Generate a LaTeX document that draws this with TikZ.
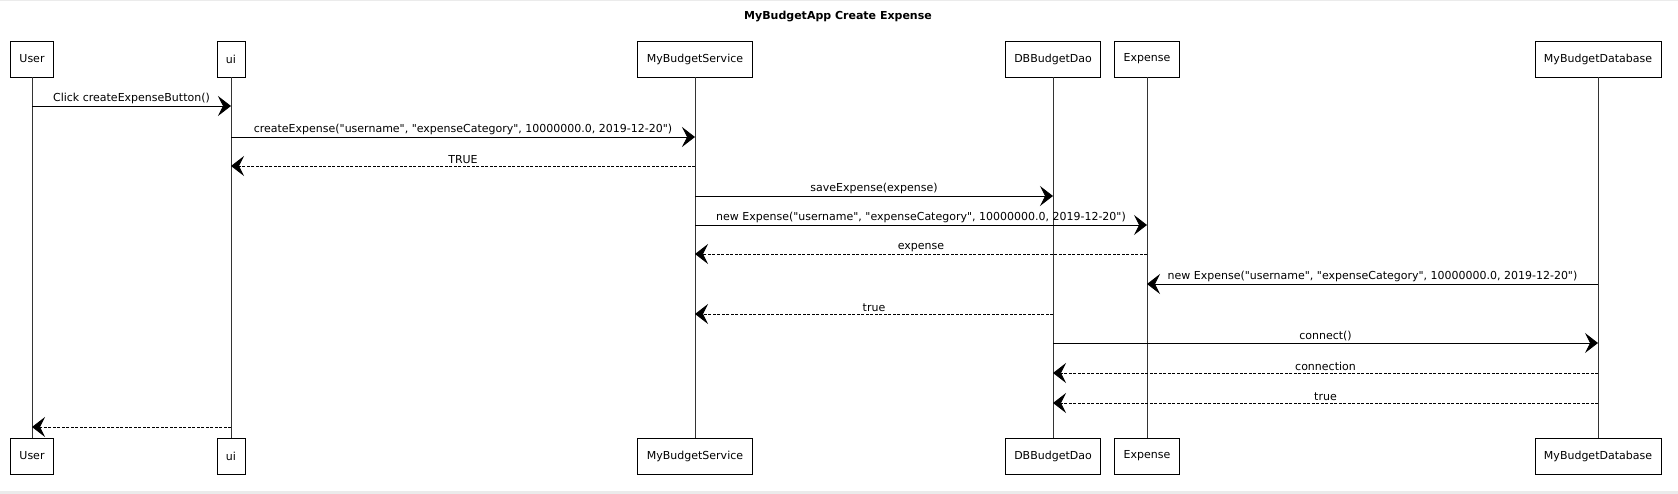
\documentclass[tikz,border=0pt]{standalone}
\usepackage{fontspec}
\setmainfont{DejaVu Sans}[Ligatures=TeXOff]
\usetikzlibrary{arrows.meta}

\tikzset{
  actor/.style={draw, fill=white, line width=0.8pt, minimum height=36pt, inner xsep=9pt, font=\fontsize{11}{13}\selectfont},
  life/.style={line width=0.6pt, draw=black!80},
  call/.style={line width=0.9pt, -{Stealth[length=13pt, width=20pt, inset=5pt]}},
  reply/.style={call, dash pattern=on 3pt off 1.5pt},
  msg/.style={above, inner sep=2pt, font=\fontsize{11}{13}\selectfont}
}

\begin{document}
\begin{tikzpicture}[x=1pt, y=-1pt]
    \useasboundingbox (0,0) rectangle (1678,494);
    \fill[black!8] (0,0) rectangle (1678,1.5);
    \fill[black!8] (0,491) rectangle (1678,494);

    \node[font=\bfseries\fontsize{11}{13}\selectfont] (title) at (838,17) {MyBudgetApp Create Expense};

    % participants, top row
    \node[actor] (userT) at (32,59) {User};
    \node[actor] (uiT) at (231,59) {ui};
    \node[actor] (serviceT) at (695,59) {MyBudgetService};
    \node[actor] (daoT) at (1053,59) {DBBudgetDao};
    \node[actor] (expenseT) at (1147,59) {Expense};
    \node[actor] (dbT) at (1598,59) {MyBudgetDatabase};

    % participants, bottom row
    \node[actor] (userB) at (32,456) {User};
    \node[actor] (uiB) at (231,456) {ui};
    \node[actor] (serviceB) at (695,456) {MyBudgetService};
    \node[actor] (daoB) at (1053,456) {DBBudgetDao};
    \node[actor] (expenseB) at (1147,456) {Expense};
    \node[actor] (dbB) at (1598,456) {MyBudgetDatabase};

    % lifelines
    \draw[life] (userT) -- (userB);
    \draw[life] (uiT) -- (uiB);
    \draw[life] (serviceT) -- (serviceB);
    \draw[life] (daoT) -- (daoB);
    \draw[life] (expenseT) -- (expenseB);
    \draw[life] (dbT) -- (dbB);

    % messages
    \draw[call] (userT |- 0,106) -- (uiT |- 0,106) node[msg, midway] {Click createExpenseButton()};
    \draw[call] (uiT |- 0,137) -- (serviceT |- 0,137) node[msg, midway] {createExpense("username", "expenseCategory", 10000000.0, 2019-12-20")};
    \draw[reply] (serviceT |- 0,166) -- (uiT |- 0,166) node[msg, midway] {TRUE};
    \draw[call] (serviceT |- 0,196) -- (daoT |- 0,196) node[msg, midway] {saveExpense(expense)};
    \draw[call] (serviceT |- 0,225) -- (expenseT |- 0,225) node[msg, midway] {new Expense("username", "expenseCategory", 10000000.0, 2019-12-20")};
    \draw[reply] (expenseT |- 0,254) -- (serviceT |- 0,254) node[msg, midway] {expense};
    \draw[call] (dbT |- 0,284) -- (expenseT |- 0,284) node[msg, midway] {new Expense("username", "expenseCategory", 10000000.0, 2019-12-20")};
    \draw[reply] (daoT |- 0,314) -- (serviceT |- 0,314) node[msg, midway] {true};
    \draw[call] (daoT |- 0,343) -- (dbT |- 0,343) node[msg, midway] {connect()};
    \draw[reply] (dbT |- 0,373) -- (daoT |- 0,373) node[msg, midway] {connection};
    \draw[reply] (dbT |- 0,403) -- (daoT |- 0,403) node[msg, midway] {true};
    \draw[reply] (uiT |- 0,427) -- (userT |- 0,427);
\end{tikzpicture}
\end{document}
